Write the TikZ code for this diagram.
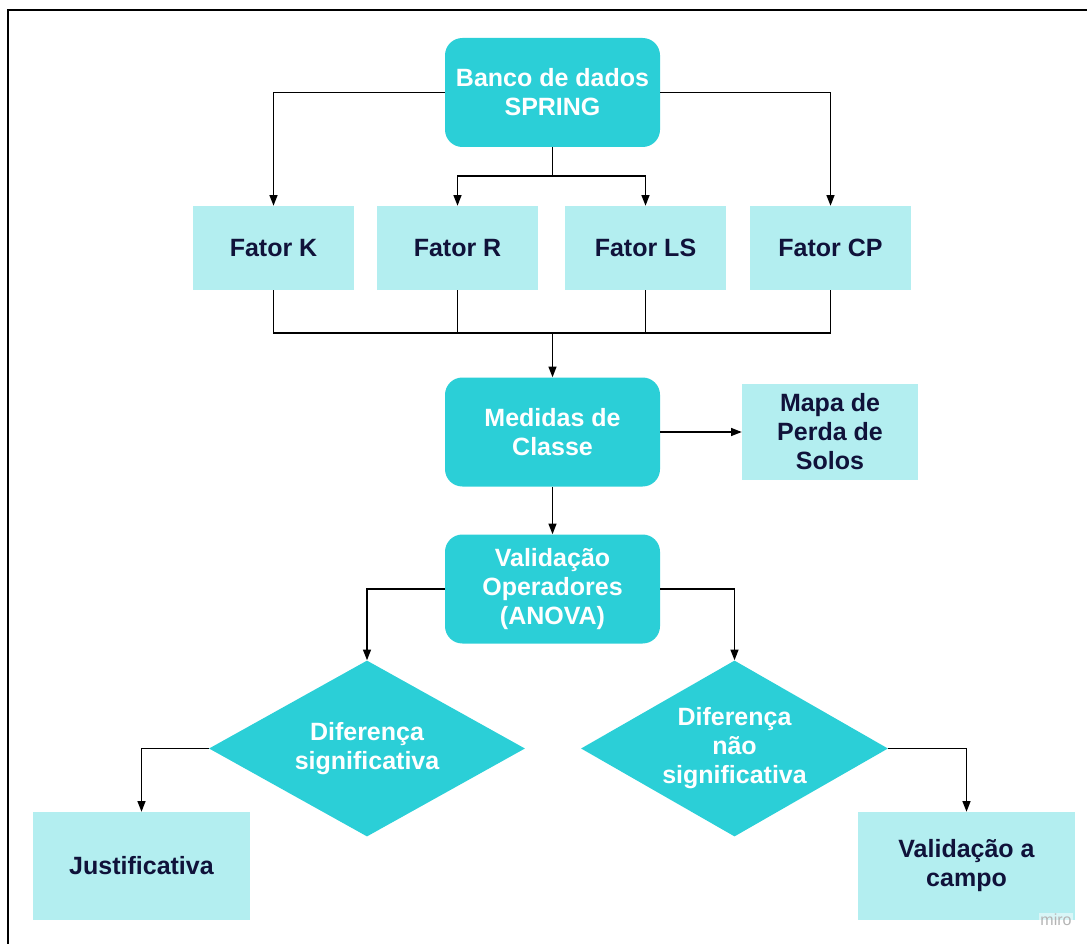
\documentclass[tikz,border=0pt]{standalone}
\usepackage{fontspec}
\setmainfont{Liberation Sans}
\usetikzlibrary{arrows.meta,shapes.geometric}
\definecolor{tealdark}{HTML}{2BCFD7}
\definecolor{teallight}{HTML}{B3EEF0}
\definecolor{navytext}{HTML}{10123A}
\definecolor{mirogray}{HTML}{B4B4B4}
\tikzset{
  base/.style={font=\fontsize{18.75}{21.75}\selectfont\bfseries, align=center, inner sep=0pt, draw=none},
  roundbox/.style={base, fill=tealdark, text=white, rounded corners=13pt, minimum width={215*0.75pt}, minimum height={109*0.75pt}},
  lightbox/.style={base, fill=teallight, text=navytext},
  decision/.style={base, diamond, aspect=1.8, fill=tealdark, text=white},
  conn/.style={draw=black, line width=1pt},
  arr/.style={conn, -{Triangle[length=8pt,width=6pt]}},
}
\begin{document}
\begin{tikzpicture}[x=0.75pt,y=-0.75pt]
\useasboundingbox (0,0) rectangle (1087,944);
\begin{scope}
\clip (0,0) rectangle (1087,944);
\draw[line width=1.6pt, black] (8,10) rectangle (1100,960);
\end{scope}

% nodes
\node[roundbox] (banco) at (552.5,92.5) {Banco de dados\\SPRING};
\node[lightbox, minimum width={161*0.75pt}, minimum height={84*0.75pt}] (fK) at (273.5,248) {Fator K};
\node[lightbox, minimum width={161*0.75pt}, minimum height={84*0.75pt}] (fR) at (457.5,248) {Fator R};
\node[lightbox, minimum width={161*0.75pt}, minimum height={84*0.75pt}] (fLS) at (645.5,248) {Fator LS};
\node[lightbox, minimum width={161*0.75pt}, minimum height={84*0.75pt}] (fCP) at (830.5,248) {Fator CP};
\node[roundbox] (medidas) at (552.5,432) {Medidas de\\Classe};
\node[lightbox, minimum width={176*0.75pt}, minimum height={96*0.75pt}] (mapa) at (830,432) {Mapa de\\Perda de\\Solos};
\node[roundbox] (valid) at (552.5,589) {Validação\\Operadores\\(ANOVA)};
\node[decision, minimum width={316*0.75pt}, minimum height={176*0.75pt}] (d1) at (367,748.5) {Diferença\\significativa};
\node[decision, minimum width={307*0.75pt}, minimum height={176*0.75pt}] (d2) at (734.5,748.5) {Diferença\\não\\significativa};
\node[lightbox, minimum width={217*0.75pt}, minimum height={108*0.75pt}] (just) at (141.5,866) {Justificativa};
\node[lightbox, minimum width={217*0.75pt}, minimum height={108*0.75pt}] (campo) at (966.5,866) {Validação a\\campo};
\node[inner sep=1pt, fill=white, fill opacity=0.5, text opacity=1, text=mirogray, font=\fontsize{12}{14}\selectfont] (miro) at (1056,920) {miro};

% connectors
\coordinate (split) at (552.5,176);
\coordinate (join) at (552.5,333);
\draw[arr] (banco.west) -| (fK.north);
\draw[arr] (banco.east) -| (fCP.north);
\draw[conn] (banco.south) -- (split);
\draw[arr] (split) -| (fR.north);
\draw[arr] (split) -| (fLS.north);
\draw[conn] (fK.south) |- (join);
\draw[conn] (fCP.south) |- (join);
\draw[conn] (fR.south) -- (fR.south |- join);
\draw[conn] (fLS.south) -- (fLS.south |- join);
\draw[arr] (join) -- (medidas.north);
\draw[arr] (medidas.east) -- (mapa.west);
\draw[arr] (medidas.south) -- (valid.north);
\draw[arr] (valid.west) -| (d1.north);
\draw[arr] (valid.east) -| (d2.north);
\draw[arr] (d1.west) -| (just.north);
\draw[arr] (d2.east) -| (campo.north);
\end{tikzpicture}
\end{document}
